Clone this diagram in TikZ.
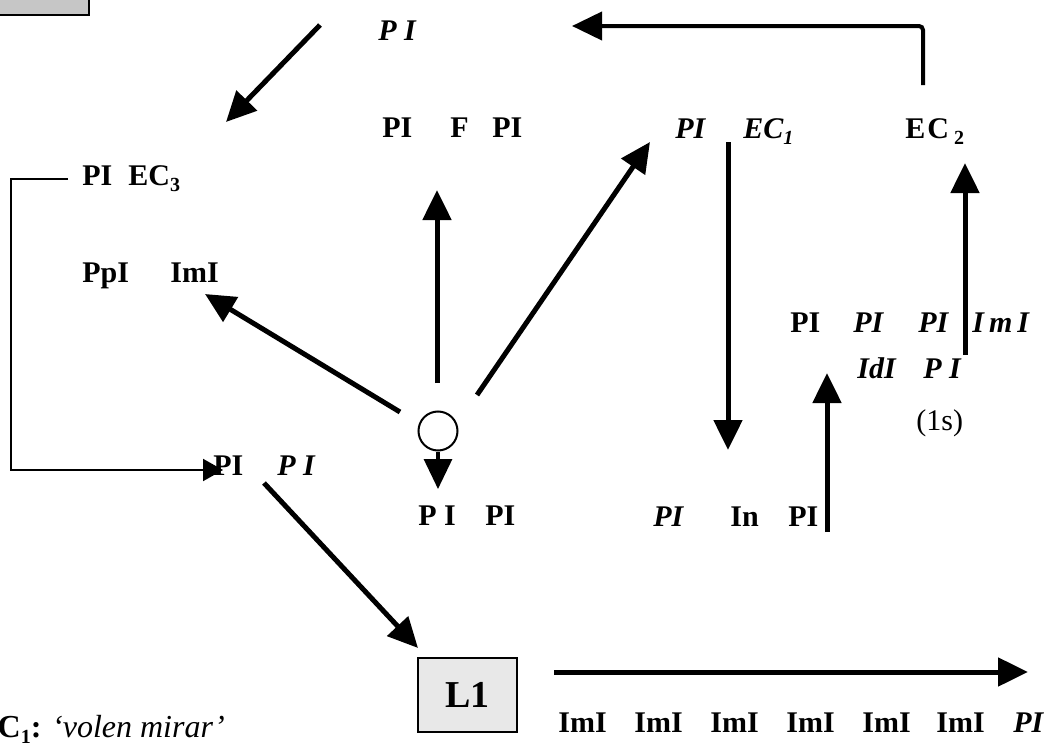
\documentclass[tikz,border=0pt]{standalone}
\usepackage{fontspec}
\setmainfont{Liberation Serif}
\usetikzlibrary{arrows.meta}
% small lowered index for EC labels
\newcommand\lowsub[1]{\raisebox{-0.45ex}{\fontsize{10}{10}\selectfont #1}}

\begin{document}
\begin{tikzpicture}[x=0.5pt,y=-0.5pt,
  lbl/.style={anchor=base west, inner sep=0pt, font=\fontsize{15}{18}\selectfont\bfseries},
  ital/.style={lbl, font=\fontsize{15}{18}\selectfont\bfseries\itshape},
  plain/.style={lbl, font=\fontsize{15}{18}\selectfont},
  bigarrow/.style={line width=2.5pt, -{Triangle[length=15pt,width=14pt]}},
  thinline/.style={line width=1pt},
  thinarrow/.style={thinline, -{Triangle[length=10pt,width=11pt]}},
  greybox/.style={draw, line width=1.2pt, fill=gray!18},
]
\clip (0,0) rectangle (1062,744);

% boxes
\node[greybox, fill=gray!45, minimum width=47.5pt, minimum height=10pt, inner sep=0pt, anchor=south east] (topbox) at (90,16) {};
\node[greybox, minimum width=49.5pt, minimum height=37pt, inner sep=0pt,
      font=\fontsize{19}{22}\selectfont\bfseries] (lone) at (467.5,695) {L1};

% upper labels
\node[ital] (pitop) at (378,40) {P I};
\node[lbl]  (fpa)   at (382,137) {PI};
\node[lbl]  (ff)    at (450,137) {F};
\node[lbl]  (fpb)   at (492,137) {PI};
\node[ital] (ecpi)  at (675,138) {PI};
\node[ital] (econe) at (743,138) {EC\lowsub{1}};
\node[lbl]  (ectwo) at (905,138) {E\kern1pt C\,\lowsub{2}};

% left column
\node[lbl]  (ecthreepi) at (82,185) {PI};
\node[lbl]  (ecthree)   at (128,185) {EC\lowsub{3}};
\node[lbl]  (ppi)  at (82,282) {PpI};
\node[lbl]  (imi)  at (170,282) {ImI};
\node[lbl]  (lpa)  at (213,475) {PI};
\node[ital] (lpb)  at (277,475) {P I};

% centre
\node[draw, circle, line width=1pt, minimum size=19.5pt, inner sep=0pt] (circ) at (438,431) {};
\node[lbl]  (cpa)  at (418,525) {P I};
\node[lbl]  (cpb)  at (485,525) {PI};

% right group
\node[ital] (inpa) at (653,526) {PI};
\node[lbl]  (inn)  at (730,526) {In};
\node[lbl]  (inpb) at (788,526) {PI};
\node[lbl]  (rpa)  at (790,332) {PI};
\node[ital] (rpb)  at (853,332) {PI};
\node[ital] (rpc)  at (918,332) {PI};
\node[ital] (rimi) at (972,332) {I\,m\,I};
\node[ital] (idi)  at (857,378) {IdI};
\node[ital] (rpd)  at (923,378) {P I};
\node[plain] (ones) at (916,430) {(1s)};

% bottom row
\node[lbl] (ba) at (558,732) {ImI};
\node[lbl] (bb) at (634,732) {ImI};
\node[lbl] (bc) at (710,732) {ImI};
\node[lbl] (bd) at (786,732) {ImI};
\node[lbl] (be) at (862,732) {ImI};
\node[lbl] (bf) at (936,732) {ImI};
\node[ital] (bg) at (1013,732) {PI};

\node[anchor=base west, inner sep=0pt, font=\fontsize{16}{18}\selectfont] (legend) at (-24,737)
  {\textbf{EC\lowsub{1}:} \textit{‘volen mirar’}};

% connector ends
\coordinate (s1) at (320,25);   \coordinate (t1) at (226,122);
\coordinate (s2) at (923,85);   \coordinate (k2) at (923,26);  \coordinate (t2) at (572,26);
\coordinate (s3) at (437,383);  \coordinate (t3) at (437,190);
\coordinate (s4) at (477,395);  \coordinate (t4) at (650,142);
\coordinate (s5) at (400,412);  \coordinate (t5) at (205,294);
\coordinate (t6) at (438,489);
\coordinate (s7) at (728,142);  \coordinate (t7) at (728,450);
\coordinate (s8) at (827,532);  \coordinate (t8) at (827,373);
\coordinate (s9) at (965,355);  \coordinate (t9) at (965,163);
\coordinate (s10) at (264,483); \coordinate (t10) at (418,648);
\coordinate (s11) at (554,672); \coordinate (t11) at (1028,672);
\coordinate (b1) at (68,179);   \coordinate (b2) at (11,179);
\coordinate (b3) at (11,470);   \coordinate (b4) at (223,470);

% connectors
\draw[bigarrow] (s1) -- (t1);
\draw[bigarrow, line width=2pt, rounded corners=2pt] (s2) -- (k2) -- (t2);
\draw[bigarrow] (s3) -- (t3);
\draw[bigarrow] (s4) -- (t4);
\draw[bigarrow] (s5) -- (t5);
\draw[bigarrow, line width=1.6pt] (circ.south) -- (t6);
\draw[bigarrow] (s7) -- (t7);
\draw[bigarrow] (s8) -- (t8);
\draw[bigarrow] (s9) -- (t9);
\draw[bigarrow] (s10) -- (t10);
\draw[bigarrow] (s11) -- (t11);
\draw[thinarrow] (b1) -- (b2) -- (b3) -- (b4);
\end{tikzpicture}
\end{document}
